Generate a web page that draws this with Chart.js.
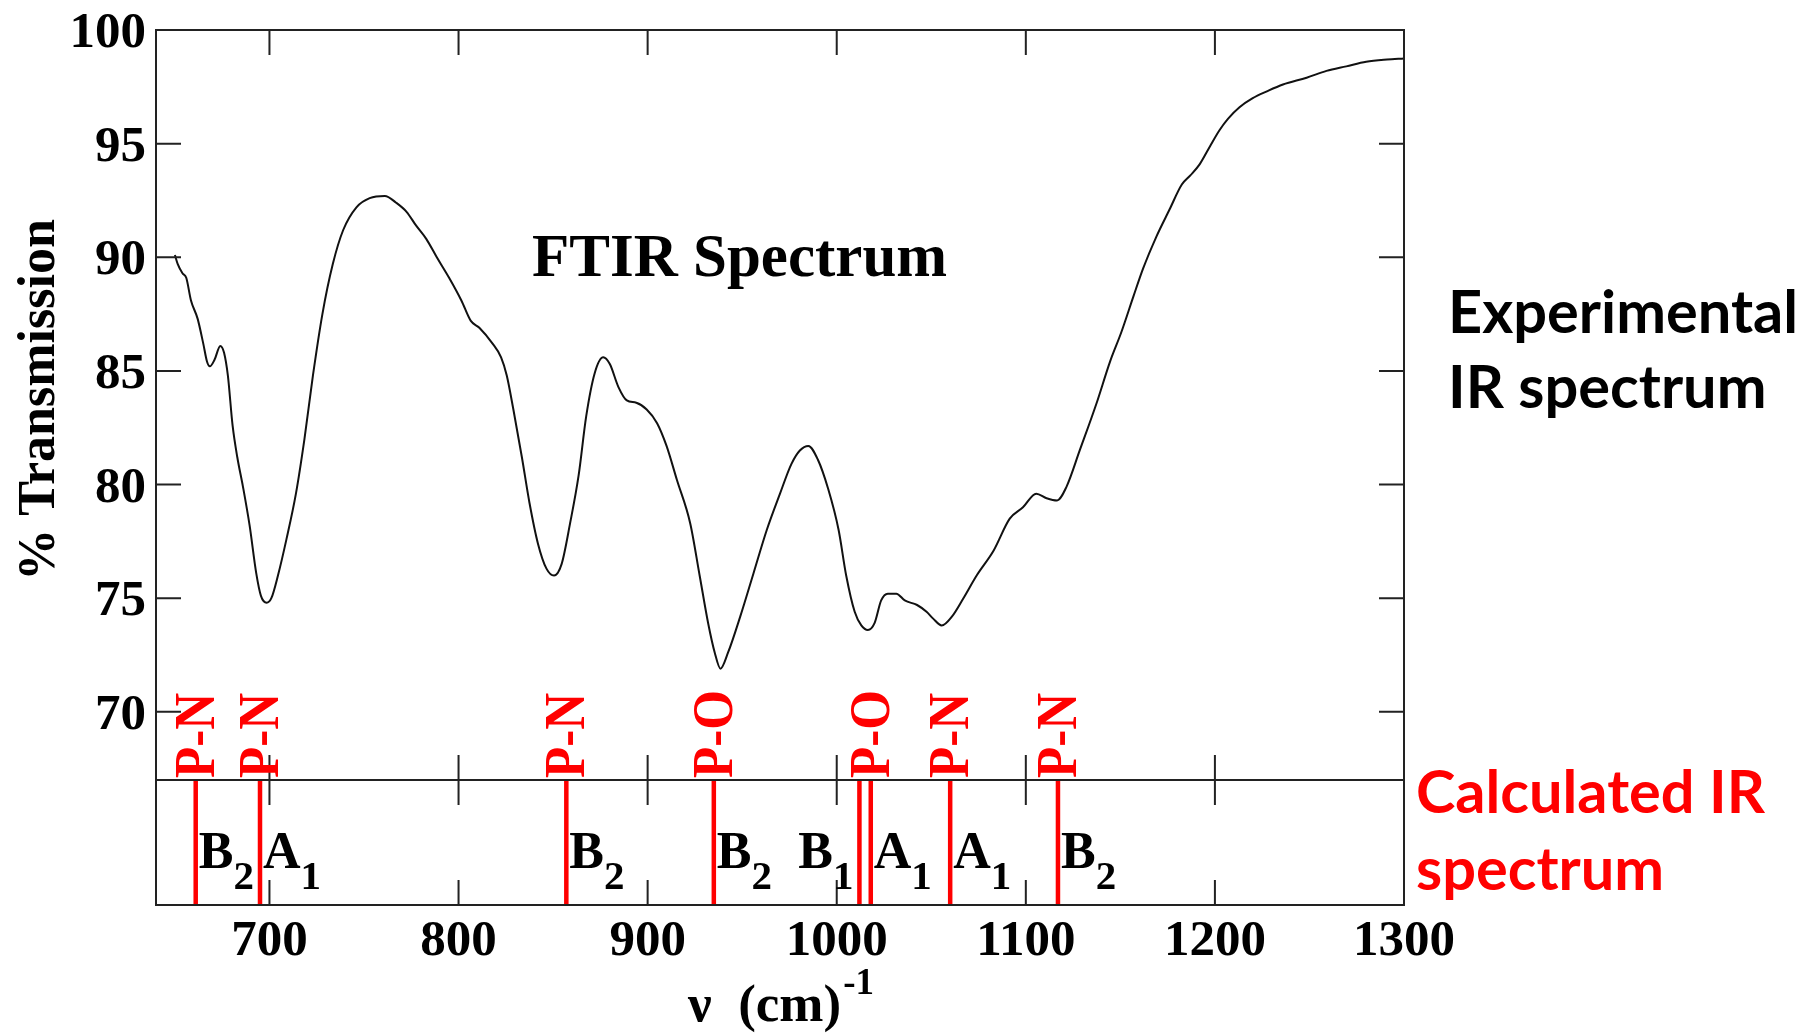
<!DOCTYPE html>
<html>
<head>
<meta charset="utf-8">
<title>FTIR Spectrum</title>
<script src="https://cdn.jsdelivr.net/npm/chart.js@4.4.1/dist/chart.umd.min.js"></script>
<style>
  html, body { margin: 0; padding: 0; background: #fff; }
  #wrap { position: relative; width: 1806px; height: 1034px; }
</style>
</head>
<body>
<div id="wrap"><canvas id="c"></canvas></div>
<script>
// experimental FTIR trace
const wavenumbers = [650, 651.5, 654, 656, 658.5, 662, 665, 667, 668.5, 671, 674, 676, 678, 680.5, 683, 686, 689.5, 693, 695.5, 698.5,
  701, 704.5, 709, 714, 718.5, 723, 728, 733.5, 739, 746, 753, 761, 767, 772.5, 777.5, 783, 788.5, 795, 801.5, 806.5,
  811, 818, 822.5, 825.5, 829, 833.5, 837.5, 842, 846.5, 850.5, 854.5, 859, 863.5, 867.5, 872, 876.5, 880, 884.5, 889, 894,
  899.5, 905, 910, 915.5, 922.5, 927.5, 932, 935.5, 938.5, 942.5, 949, 956, 963, 970, 976, 980.5, 985, 990, 995.5, 1001,
  1005, 1009.5, 1013, 1016.5, 1020, 1023.5, 1027, 1031.5, 1036, 1042.5, 1047.5, 1051, 1055.5, 1061, 1067, 1074, 1083, 1091.5, 1098.5, 1105.5,
  1111, 1116.5, 1121.5, 1128.5, 1137.5, 1144.5, 1150.5, 1157, 1162, 1169, 1176, 1182.5, 1187, 1192, 1197.5, 1202.5, 1207, 1213, 1220, 1227.5,
  1236, 1248.5, 1259, 1269.5, 1280, 1291, 1300];
const transmission = [90.1, 89.7, 89.3, 89.1, 88.1, 87.3, 86.2, 85.4, 85.2, 85.5, 86.1, 85.8, 84.8, 82.6, 81.2, 79.9, 78.2, 76.1, 75.1, 74.8,
  75.0, 76.0, 77.6, 79.6, 82.0, 84.8, 87.5, 89.7, 91.2, 92.2, 92.6, 92.7, 92.4, 92.0, 91.4, 90.8, 90.0, 89.1, 88.1, 87.2,
  86.9, 86.2, 85.6, 84.8, 83.3, 81.2, 79.2, 77.4, 76.3, 76.0, 76.5, 78.3, 80.4, 83.0, 84.9, 85.6, 85.3, 84.3, 83.7, 83.6,
  83.3, 82.7, 81.7, 80.2, 78.3, 76.0, 73.9, 72.6, 71.9, 72.6, 74.2, 76.1, 78.0, 79.6, 80.9, 81.5, 81.7, 81.1, 79.8, 78.0,
  76.0, 74.4, 73.8, 73.6, 73.9, 74.9, 75.2, 75.2, 74.9, 74.7, 74.4, 74.1, 73.8, 74.2, 75.0, 76.0, 77.1, 78.5, 79.0, 79.6,
  79.4, 79.3, 79.9, 81.5, 83.6, 85.4, 86.7, 88.3, 89.5, 90.9, 92.1, 93.2, 93.6, 94.1, 94.9, 95.6, 96.1, 96.6, 97.0, 97.3,
  97.6, 97.9, 98.2, 98.4, 98.6, 98.7, 98.75];

// calculated modes
const calcFreqs = [661, 695, 857, 935, 1012, 1018, 1060, 1117];
const bondLabels = ['P-N', 'P-N', 'P-N', 'P-O', '', 'P-O', 'P-N', 'P-N'];
const symLabels = ['B2', 'A1', 'B2', 'B2', 'B1', 'A1', 'A1', 'B2'];

const xTicks = [700, 800, 900, 1000, 1100, 1200, 1300];
const yTicks = [70, 75, 80, 85, 90, 95, 100];

const SERIF = '"Liberation Serif", "Times New Roman", serif';
const TICK = 25;

const curve = wavenumbers.map((w, i) => ({ x: w, y: transmission[i] }));
const sticks = [];
calcFreqs.forEach(f => { sticks.push({ x: f, y: 0 }, { x: f, y: 1 }, { x: f, y: null }); });

const overlay = {
  id: 'overlay',
  afterDraw(chart) {
    const { ctx, chartArea: a, scales: { x, y, y2 } } = chart;
    const yDiv = y2.getPixelForValue(1);
    ctx.save();

    // frame, divider and inward ticks
    ctx.strokeStyle = '#222'; ctx.lineWidth = 2;
    ctx.strokeRect(a.left, a.top, a.right - a.left, a.bottom - a.top);
    ctx.beginPath();
    ctx.moveTo(a.left, yDiv); ctx.lineTo(a.right, yDiv);
    xTicks.forEach(v => {
      const px = x.getPixelForValue(v);
      ctx.moveTo(px, a.top); ctx.lineTo(px, a.top + TICK);
      ctx.moveTo(px, yDiv - TICK); ctx.lineTo(px, yDiv + TICK);
      ctx.moveTo(px, a.bottom); ctx.lineTo(px, a.bottom - TICK);
    });
    yTicks.forEach(v => {
      const py = y.getPixelForValue(v);
      ctx.moveTo(a.left, py); ctx.lineTo(a.left + TICK, py);
      ctx.moveTo(a.right, py); ctx.lineTo(a.right - TICK, py);
    });
    ctx.stroke();

    // tick labels
    ctx.fillStyle = '#000';
    ctx.font = 'bold 51px ' + SERIF;
    ctx.textBaseline = 'alphabetic';
    ctx.textAlign = 'center';
    xTicks.forEach(v => ctx.fillText(String(v), x.getPixelForValue(v), a.bottom + 50));
    ctx.textAlign = 'right';
    yTicks.forEach(v => ctx.fillText(String(v), a.left - 10, y.getPixelForValue(v) + 17));

    // bond labels, rotated, sitting on the divider (condensed serif)
    ctx.fillStyle = '#ff0000';
    ctx.font = 'bold 58px ' + SERIF;
    ctx.textAlign = 'left';
    calcFreqs.forEach((f, i) => {
      if (!bondLabels[i]) return;
      ctx.save();
      ctx.translate(x.getPixelForValue(f) + 18, yDiv - 2);
      ctx.rotate(-Math.PI / 2);
      ctx.scale(0.88, 1);
      ctx.fillText(bondLabels[i], 0, 0);
      ctx.restore();
    });

    // symmetry labels with subscripts
    ctx.fillStyle = '#000';
    calcFreqs.forEach((f, i) => {
      const px = x.getPixelForValue(f);
      const main = symLabels[i][0], sub = symLabels[i].slice(1);
      ctx.font = 'bold 52px ' + SERIF; const wm = ctx.measureText(main).width;
      ctx.font = 'bold 41px ' + SERIF; const ws = ctx.measureText(sub).width;
      const crowded = i + 1 < calcFreqs.length && calcFreqs[i + 1] - f < 10;
      const left = crowded ? px - 6 - wm - ws : px + 3;
      ctx.font = 'bold 52px ' + SERIF; ctx.fillText(main, left, a.bottom - 37);
      ctx.font = 'bold 41px ' + SERIF; ctx.fillText(sub, left + wm, a.bottom - 16);
    });

    // titles
    ctx.font = 'bold 61px ' + SERIF;
    ctx.fillText('FTIR Spectrum', 532, 276);

    ctx.save();
    ctx.translate(54, 400); ctx.rotate(-Math.PI / 2);
    ctx.textAlign = 'center'; ctx.font = 'bold 52px ' + SERIF;
    ctx.fillText('% Transmission', 0, 0);
    ctx.restore();

    ctx.font = 'bold 53px ' + SERIF;
    const xt = 'ν  (cm)';
    ctx.fillText(xt, 688, 1021);
    const xw = ctx.measureText(xt).width;
    ctx.font = 'bold 37px ' + SERIF;
    ctx.fillText('-1', 690 + xw, 994);

    // side notes, sized so "Experimental" spans the same width as in the figure
    ctx.font = 'bold 100px Lato';
    const fs = 100 * 350 / ctx.measureText('Experimental').width;
    ctx.font = 'bold ' + fs.toFixed(1) + 'px Lato';
    ctx.fillText('Experimental', 1448, 333);
    ctx.fillText('IR spectrum', 1448, 408);
    ctx.fillStyle = '#ff0000';
    ctx.fillText('Calculated IR', 1416, 813);
    ctx.fillText('spectrum', 1416, 890);

    ctx.restore();
  }
};

new Chart(document.getElementById('c'), {
  type: 'line',
  data: {
    datasets: [
      { data: curve, yAxisID: 'y', borderColor: '#111', borderWidth: 2, pointRadius: 0, cubicInterpolationMode: 'monotone' },
      { data: sticks, yAxisID: 'y2', borderColor: '#ff0000', borderWidth: 4.5, pointRadius: 0, tension: 0, spanGaps: false }
    ]
  },
  options: {
    responsive: true, maintainAspectRatio: false, animation: false, events: [],
    layout: { padding: { left: 156, top: 30, right: 402, bottom: 129 } },
    plugins: { legend: { display: false }, tooltip: { enabled: false } },
    scales: {
      x: { type: 'linear', min: 640, max: 1300, display: false },
      // upper panel: % transmission; the bottom 1/7 of the plot (below 67) is the calculated strip
      y: { min: 61.5, max: 100, display: false },
      y2: { min: 0, max: 7, display: false }
    }
  },
  plugins: [overlay]
});
</script>
</body>
</html>
